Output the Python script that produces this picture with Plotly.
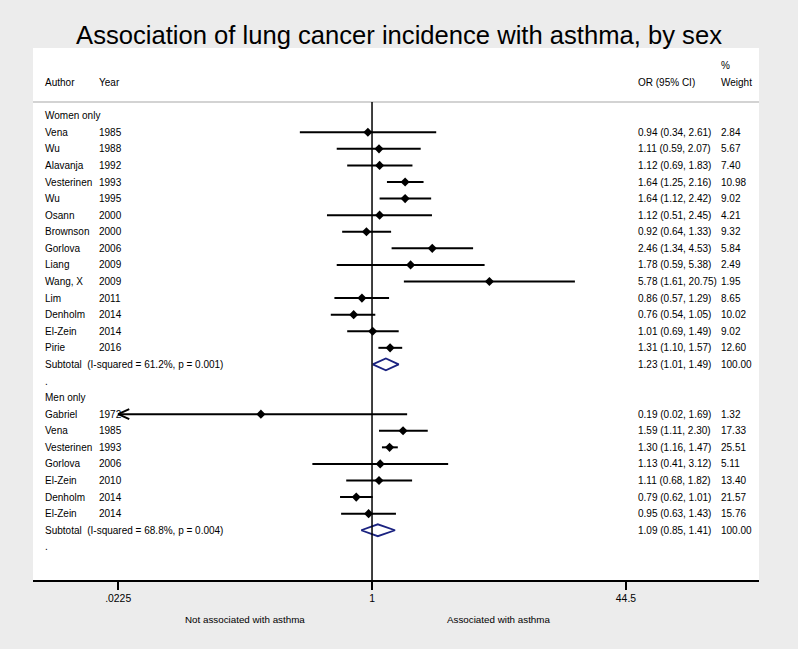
import math
import plotly.graph_objects as go

# ---------------- data ----------------
women_author = ["Vena", "Wu", "Alavanja", "Vesterinen", "Wu", "Osann", "Brownson",
                "Gorlova", "Liang", "Wang, X", "Lim", "Denholm", "El-Zein", "Pirie"]
women_year = ["1985", "1988", "1992", "1993", "1995", "2000", "2000",
              "2006", "2009", "2009", "2011", "2014", "2014", "2016"]
women_or = [0.94, 1.11, 1.12, 1.64, 1.64, 1.12, 0.92, 2.46, 1.78, 5.78, 0.86, 0.76, 1.01, 1.31]
women_lo = [0.34, 0.59, 0.69, 1.25, 1.12, 0.51, 0.64, 1.34, 0.59, 1.61, 0.57, 0.54, 0.69, 1.10]
women_hi = [2.61, 2.07, 1.83, 2.16, 2.42, 2.45, 1.33, 4.53, 5.38, 20.75, 1.29, 1.05, 1.49, 1.57]
women_w = ["2.84", "5.67", "7.40", "10.98", "9.02", "4.21", "9.32", "5.84", "2.49", "1.95",
           "8.65", "10.02", "9.02", "12.60"]
women_sub = dict(label="Subtotal  (I-squared = 61.2%, p = 0.001)", est=1.23, lo=1.01, hi=1.49, w="100.00")

men_author = ["Gabriel", "Vena", "Vesterinen", "Gorlova", "El-Zein", "Denholm", "El-Zein"]
men_year = ["1972", "1985", "1993", "2006", "2010", "2014", "2014"]
men_or = [0.19, 1.59, 1.30, 1.13, 1.11, 0.79, 0.95]
men_lo = [0.02, 1.11, 1.16, 0.41, 0.68, 0.62, 0.63]
men_hi = [1.69, 2.30, 1.47, 3.12, 1.82, 1.01, 1.43]
men_w = ["1.32", "17.33", "25.51", "5.11", "13.40", "21.57", "15.76"]
men_sub = dict(label="Subtotal  (I-squared = 68.8%, p = 0.004)", est=1.09, lo=0.85, hi=1.41, w="100.00")

tick_vals = [0.0225, 1, 44.5]
tick_text = [".0225", "1", "44.5"]
title = "Association of lung cancer incidence with asthma, by sex"

# ---------------- layout constants ----------------
X_MIN = tick_vals[0]
FONT = "Liberation Sans, Arial, sans-serif"
BLACK = "#000000"
NAVY = "#1a2280"
ROW_FS = 10

fig = go.Figure()
ann = []

def txt(x, y, s, xref="paper", size=ROW_FS, xanchor="left"):
    ann.append(dict(x=x, y=y, xref=xref, yref="y", text=s, showarrow=False,
                    xanchor=xanchor, yanchor="middle",
                    font=dict(family=FONT, size=size, color=BLACK)))

X_AUTH, X_YEAR, X_OR, X_W = 0.0138, 0.0882, 0.8306, 0.945

def fmt(e, l, h):
    return f"{e:.2f} ({l:.2f}, {h:.2f})"

def study_rows(start, authors, years, ors, los, his, ws):
    for i, (a, yr, e, l, h, w) in enumerate(zip(authors, years, ors, los, his, ws)):
        row = start + i
        txt(X_AUTH, row, a)
        txt(X_YEAR, row, yr)
        txt(X_OR, row, fmt(e, l, h))
        txt(X_W, row, w)
        lo_draw = max(l, X_MIN)
        fig.add_trace(go.Scatter(x=[lo_draw, h], y=[row, row], mode="lines",
                                 line=dict(color=BLACK, width=2), hoverinfo="skip",
                                 showlegend=False))
        if l < X_MIN:
            f = 1.18
            fig.add_trace(go.Scatter(x=[lo_draw * f, lo_draw, lo_draw * f],
                                     y=[row - 0.3, row, row + 0.3], mode="lines",
                                     line=dict(color=BLACK, width=2), hoverinfo="skip",
                                     showlegend=False))
        fig.add_trace(go.Scatter(x=[e], y=[row], mode="markers",
                                 marker=dict(symbol="diamond", size=7, color=BLACK),
                                 hoverinfo="skip", showlegend=False))

def subtotal(row, s):
    txt(X_AUTH, row, s["label"])
    txt(X_OR, row, fmt(s["est"], s["lo"], s["hi"]))
    txt(X_W, row, s["w"])
    d = 0.36
    fig.add_trace(go.Scatter(x=[s["lo"], s["est"], s["hi"], s["est"], s["lo"]],
                             y=[row, row - d, row, row + d, row], mode="lines",
                             line=dict(color=NAVY, width=1.8), hoverinfo="skip",
                             showlegend=False))

# header
txt(X_AUTH, -2, "Author")
txt(X_YEAR, -2, "Year")
txt(X_OR, -2, "OR (95% CI)")
txt(X_W, -2, "Weight")
txt(X_W, -3, "%")

# women block
txt(X_AUTH, 0, "Women only")
study_rows(1, women_author, women_year, women_or, women_lo, women_hi, women_w)
r = 1 + len(women_author)
subtotal(r, women_sub)
txt(X_AUTH, r + 1, ".")
# men block
txt(X_AUTH, r + 2, "Men only")
study_rows(r + 3, men_author, men_year, men_or, men_lo, men_hi, men_w)
r2 = r + 3 + len(men_author)
subtotal(r2, men_sub)
txt(X_AUTH, r2 + 1, ".")

# axis direction labels (at geometric midpoints between ticks)
for xv, s in [(math.sqrt(tick_vals[0] * tick_vals[1]), "Not associated with asthma"),
              (math.sqrt(tick_vals[1] * tick_vals[2]), "Associated with asthma")]:
    ann.append(dict(x=math.log10(xv), y=0, xref="x", yref="paper", text=s, showarrow=False,
                    xanchor="center", yanchor="middle", yshift=-39,
                    font=dict(family=FONT, size=9.8, color=BLACK)))

shapes = [
    # header separator
    dict(type="line", xref="paper", yref="y", x0=0, x1=1, y0=-0.82, y1=-0.82,
         line=dict(color="#c4c4c4", width=1.5)),
    # null line
    dict(type="line", xref="x", yref="y", x0=1, x1=1, y0=-0.82, y1=28,
         line=dict(color=BLACK, width=1.5)),
]

fig.update_layout(
    width=798, height=649,
    margin=dict(l=33, r=39, t=48, b=69),
    paper_bgcolor="#ececec", plot_bgcolor="#ffffff",
    title=dict(text=title, x=0.5, xanchor="center", y=1 - 35 / 649, yanchor="middle",
               yref="container", font=dict(family=FONT, size=25.6, color=BLACK)),
    xaxis=dict(type="log", range=[-2.2007, 2.512], tickvals=tick_vals, ticktext=tick_text,
               ticks="outside", ticklen=8, tickwidth=1.5, tickcolor=BLACK,
               showline=True, linecolor=BLACK, linewidth=2, showgrid=False,
               zeroline=False, tickfont=dict(family=FONT, size=10.4, color=BLACK),
               fixedrange=True),
    yaxis=dict(range=[28, -4.08], visible=False, showgrid=False, zeroline=False,
               fixedrange=True),
    annotations=ann, shapes=shapes, showlegend=False,
)

fig.write_html("out.html", config={"displayModeBar": False},
               post_script="document.body.style.margin='0';")
